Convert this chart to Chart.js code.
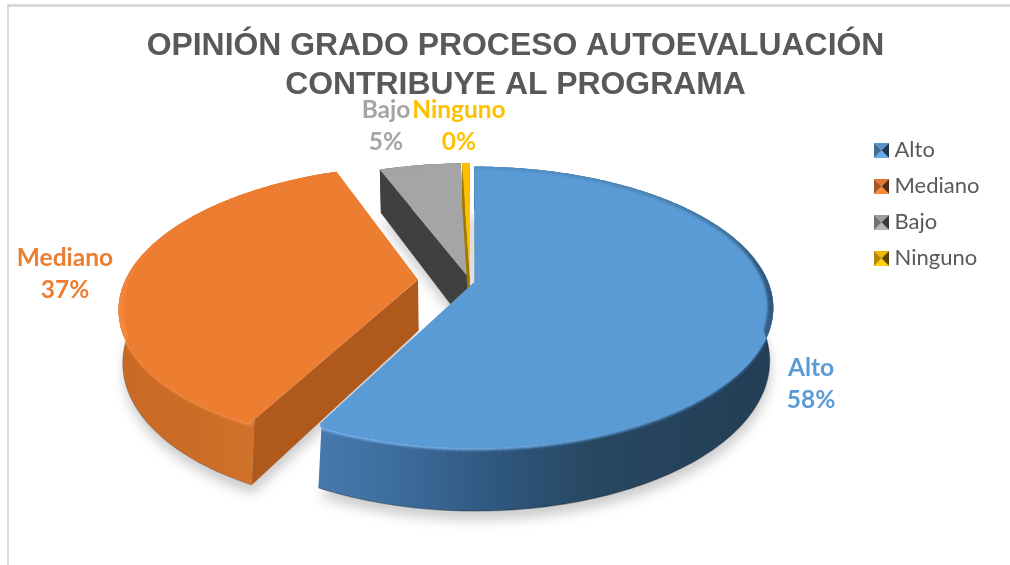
<!DOCTYPE html>
<html lang="es">
<head>
<meta charset="utf-8">
<title>Opinión grado proceso autoevaluación</title>
<script src="https://cdn.jsdelivr.net/npm/chart.js@4/dist/chart.umd.min.js"></script>
<style>
html,body{margin:0;padding:0;background:#fff;overflow:hidden}
#frame{position:absolute;left:7px;top:4px;right:0;bottom:0;border-top:3px solid #d9d9d9;border-left:2px solid #d9d9d9}
#wrap{position:absolute;left:0;top:0;width:1010px;height:565px}
canvas{display:block}
</style>
</head>
<body>
<div id="frame"></div>
<div id="wrap"><canvas id="c" width="1010" height="565"></canvas></div>
<script>
const titleLines = ['OPINIÓN GRADO PROCESO AUTOEVALUACIÓN', 'CONTRIBUYE AL PROGRAMA'];
const categories = ['Alto', 'Mediano', 'Bajo', 'Ninguno'];
const values = [57.5, 36.7, 5.3, 0.5];
const percentLabels = ['58%', '37%', '5%', '0%'];
const explode = [0.017, 0.178, 0.03, 0.03];
const topColors = ['#5b9bd5', '#ed7d31', '#a5a5a5', '#ffc000'];
const cutColors = ['#2f567e', '#b0591d', '#404040', '#a07800'];

// Perspective view of the pie plane
const view = {cx: 470, cy: 281, R: 293, T: 136, k: 0.184, D: 51, bottomScale: 0.988};
// side wall colours, left to right on screen
const wallStops = [
  [[320,'#4679ad'],[400,'#3c6c9b'],[500,'#2f567e'],[600,'#27465f'],[775,'#233e57']],
  [[120,'#c86a25'],[200,'#cc6d27'],[262,'#d2732c']],
  [[370,'#404040'],[470,'#404040']],
  [[460,'#a07800'],[475,'#a07800']]
];
// rim bevel colours by angle from 12 o'clock (degrees)
const rimStops = [
  [[0,'#4f8cc4'],[45,'#44779f'],[75,'#2e5274'],[105,'#33597f'],[135,'#3f74a8'],[160,'#5f9fdc'],[185,'#7db8f0'],[210,'#74aeea']],
  [[205,'#f58a3e'],[240,'#f98b3b'],[285,'#f3823a'],[305,'#ed7d31'],[340,'#ed7d31']],
  [[330,'#a5a5a5'],[360,'#a5a5a5']],
  [[350,'#ffc000'],[360,'#ffc000']]
];
const edgeAlpha = [0.35, 0.18, 0, 0];
const labelSpots = [[811, 368], [65, 258], [386, 110], [459, 110]];
// slice end (0 start, 1 end) whose front corner is rounded, -1 for none
const softCorner = [1, 0, -1, -1];

function hex(c){return [1,3,5].map(i=>parseInt(c.substr(i,2),16));}
function lerpStops(stops,v){
  if(v<=stops[0][0])return stops[0][1];
  for(let i=1;i<stops.length;i++){
    if(v<=stops[i][0]){
      const t=(v-stops[i-1][0])/(stops[i][0]-stops[i-1][0]);
      const a=hex(stops[i-1][1]),b=hex(stops[i][1]);
      return 'rgb('+a.map((x,j)=>Math.round(x+(b[j]-x)*t)).join(',')+')';
    }
  }
  return stops[stops.length-1][1];
}
function project(X,Y,z){
  const w=1+view.k*Y;
  let x=view.cx+view.R*X/w;
  const y=view.cy-view.T*Y/w+z*view.D/w;
  if(z){x=view.cx+(x-view.cx)*view.bottomScale;}
  return [x,y];
}
function path(ctx,pts){
  ctx.beginPath();
  pts.forEach((p,i)=>i?ctx.lineTo(p[0],p[1]):ctx.moveTo(p[0],p[1]));
  ctx.closePath();
}
// replace a sharp corner by a small curve: first -> corner -> last
function softened(from,corner,to){
  const out=[];
  for(let t=0;t<=1.001;t+=0.125){
    const u=1-t;
    out.push([u*u*from[0]+2*u*t*corner[0]+t*t*to[0],u*u*from[1]+2*u*t*corner[1]+t*t*to[1]]);
  }
  return out;
}

class Pie3DController extends Chart.PieController {
  draw(){
    const ctx=this.chart.ctx;
    const arcs=this._cachedMeta.data;
    const geo=arcs.map((arc,i)=>{
      const a0=arc.startAngle+Math.PI/2, a1=arc.endAngle+Math.PI/2;
      const mid=(a0+a1)/2;
      const ox=explode[i]*Math.sin(mid), oy=explode[i]*Math.cos(mid);
      const n=Math.max(2,Math.ceil((a1-a0)/(Math.PI/180)));
      const ring=[];
      for(let s=0;s<=n;s++){
        const t=a0+(a1-a0)*s/n;
        ring.push([ox+Math.sin(t),oy+Math.cos(t),t]);
      }
      const appTop=project(ox,oy,0),appBot=project(ox,oy,1);
      let top=ring.map(r=>project(r[0],r[1],0));
      const bot=ring.map(r=>project(r[0],r[1],1));
      if(softCorner[i]===0){
        const c=top[0],d=Math.hypot(appTop[0]-c[0],appTop[1]-c[1]),f=7/d;
        const b=[c[0]+(appTop[0]-c[0])*f,c[1]+(appTop[1]-c[1])*f];
        top=softened(b,c,top[2]).concat(top.slice(3));
      }else if(softCorner[i]===1){
        const l=top.length-1,c=top[l],d=Math.hypot(appTop[0]-c[0],appTop[1]-c[1]),f=7/d;
        const b=[c[0]+(appTop[0]-c[0])*f,c[1]+(appTop[1]-c[1])*f];
        top=top.slice(0,l-2).concat(softened(top[l-2],c,b));
      }
      return {ox,oy,ring,top,bot,appTop,appBot};
    });
    ctx.save();
    // soft ground shadow
    ctx.filter='blur(6px)';
    ctx.fillStyle='rgba(60,60,70,0.26)';
    geo.forEach(g=>{
      path(ctx,[g.appBot].concat(g.bot).map(p=>[p[0]+1,p[1]+9]));
      ctx.fill();
    });
    ctx.filter='none';
    // back to front
    [2,3,1,0].forEach(i=>{
      const g=geo[i];
      // outer wall
      const stops=wallStops[i];
      const x0=stops[0][0],x1=stops[stops.length-1][0];
      const grad=ctx.createLinearGradient(x0,0,x1,0);
      stops.forEach(s=>grad.addColorStop((s[0]-x0)/(x1-x0),s[1]));
      ctx.fillStyle=grad;
      const wall=g.top.concat(g.bot.slice().reverse());
      path(ctx,wall);ctx.fill();
      // the cut face that looks at the viewer
      ctx.fillStyle=cutColors[i];
      path(ctx,[g.appTop,g.top[0],g.bot[0],g.appBot]);ctx.fill();
      // thin dark lower edge
      if(edgeAlpha[i]){
        ctx.strokeStyle='rgba(20,25,35,'+edgeAlpha[i]+')';
        ctx.lineWidth=1.2;
        ctx.beginPath();
        g.bot.forEach((p,j)=>j?ctx.lineTo(p[0],p[1]):ctx.moveTo(p[0],p[1]));
        ctx.stroke();
      }
      // top face
      ctx.fillStyle=topColors[i];
      path(ctx,[g.appTop].concat(g.top));ctx.fill();
      // bevelled rim, soft, kept inside the slice body
      ctx.save();
      path(ctx,[g.appTop].concat(g.top).concat(g.bot.slice().reverse()).concat([g.appBot]));
      ctx.clip();
      ctx.filter='blur(1.5px)';
      ctx.lineCap='round';
      for(let s=1;s<g.ring.length;s++){
        const deg=g.ring[s][2]*180/Math.PI;
        const front=Math.min(1,Math.max(0,(0.3-Math.cos(g.ring[s][2]))/0.5));
        ctx.lineWidth=2+3*front;
        const a=project(g.ring[s-1][0]*0.993+g.ox*0.007,g.ring[s-1][1]*0.993+g.oy*0.007,0);
        const b=project(g.ring[s][0]*0.993+g.ox*0.007,g.ring[s][1]*0.993+g.oy*0.007,0);
        ctx.strokeStyle=lerpStops(rimStops[i],deg);
        ctx.beginPath();ctx.moveTo(a[0],a[1]);ctx.lineTo(b[0],b[1]);ctx.stroke();
      }
      ctx.restore();
    });
    // value labels
    ctx.textAlign='center';
    ctx.textBaseline='middle';
    ctx.font='bold 24.5px Lato';
    categories.forEach((c,i)=>{
      ctx.fillStyle=topColors[i];
      ctx.fillText(c,labelSpots[i][0],labelSpots[i][1]);
      ctx.fillText(percentLabels[i],labelSpots[i][0],labelSpots[i][1]+32);
    });
    ctx.restore();
  }
}
Pie3DController.id='pie3d';
Pie3DController.defaults=Chart.PieController.defaults;
Pie3DController.overrides=Chart.PieController.overrides;
Chart.register(Pie3DController);

function bevelIcon(c){
  const s=15,cv=document.createElement('canvas');
  cv.width=s;cv.height=s;
  const x=cv.getContext('2d'),[r,g,b]=hex(c);
  const sh=f=>`rgb(${Math.min(255,Math.round(r*f))},${Math.min(255,Math.round(g*f))},${Math.min(255,Math.round(b*f))})`;
  const tri=(p,f)=>{x.fillStyle=sh(f);x.beginPath();x.moveTo(p[0],p[1]);x.lineTo(p[2],p[3]);x.lineTo(7.5,7.5);x.closePath();x.fill();};
  tri([0,0,s,0],0.95);
  tri([0,s,s,s],1.1);
  tri([0,0,0,s],0.7);
  tri([s,0,s,s],0.35);
  return cv;
}
const icons=topColors.map(bevelIcon);

new Chart(document.getElementById('c'),{
  type:'pie3d',
  data:{labels:categories,datasets:[{data:values,backgroundColor:topColors,borderWidth:0}]},
  options:{
    responsive:false,
    animation:false,
    layout:{padding:{left:41.5,right:20.5,top:0,bottom:0}},
    plugins:{
      tooltip:{enabled:false},
      title:{display:true,text:titleLines,color:'#595959',
        font:{family:'Liberation Sans',size:31.9,weight:'bold',lineHeight:1.22},
        padding:{top:27,bottom:20.5}},
      legend:{position:'right',align:'start',fullSize:false,
        labels:{usePointStyle:true,pointStyleWidth:4,color:'#595959',font:{family:'Lato',size:22},padding:14,
          generateLabels:()=>categories.map((t,i)=>({text:t,fillStyle:topColors[i],strokeStyle:topColors[i],lineWidth:0,pointStyle:icons[i],index:i,hidden:false,fontColor:'#595959'}))}}
    }
  }
});
</script>
</body>
</html>
